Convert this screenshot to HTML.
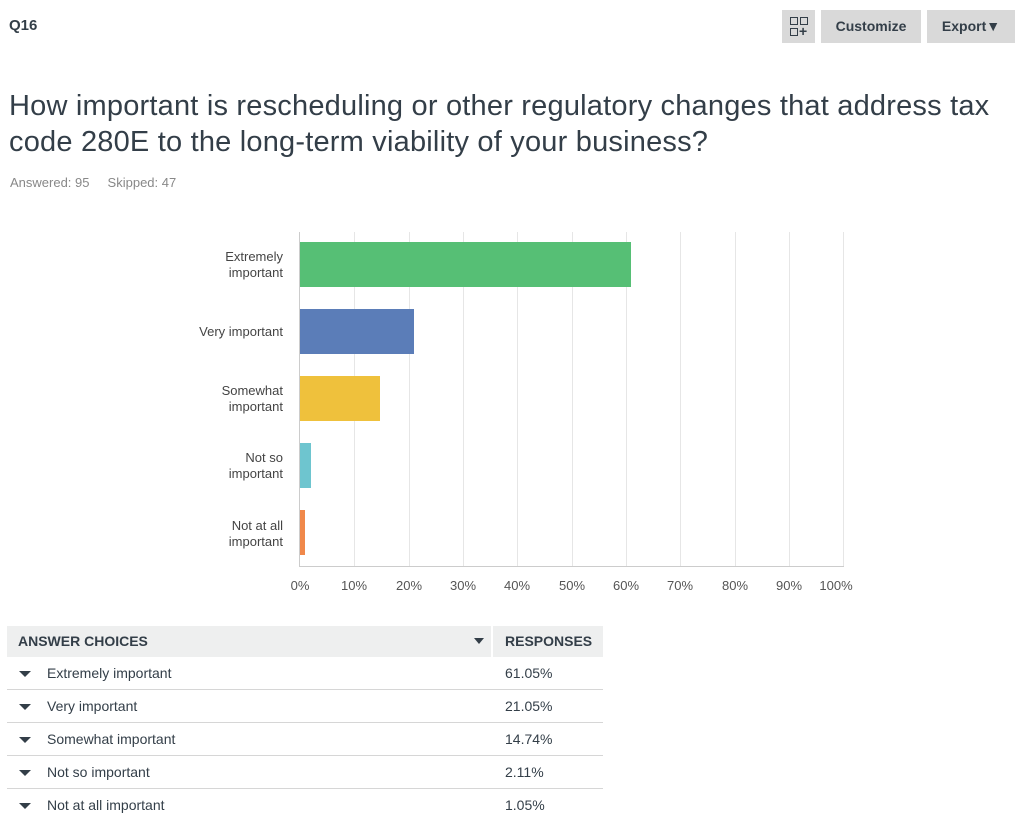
<!DOCTYPE html>
<html><head><meta charset="utf-8"><style>
body{margin:0;width:1024px;height:832px;background:#fff;font-family:"Liberation Sans",sans-serif;color:#333e48;position:relative;overflow:hidden}
.a{position:absolute}
.btn{position:absolute;top:10px;height:33px;background:#d9d9d9;font-weight:bold;font-size:14px;color:#333e48;line-height:33px;text-align:center}
.lab{position:absolute;right:741px;font-size:13px;color:#444;text-align:right;line-height:16px}
.grid{position:absolute;top:232px;height:335px;width:1px;background:#e6e6e6}
.tick{position:absolute;top:578px;font-size:13px;color:#555;width:40px;margin-left:-20px;text-align:center}
.row{position:absolute;left:7px;width:596px;height:32px;border-bottom:1px solid #d6d6d6;font-size:14px;line-height:32px}
.tri{position:absolute;left:12px;top:14px;width:0;height:0;border-left:6px solid transparent;border-right:6px solid transparent;border-top:6px solid #333e48}
.sq{position:absolute;width:6px;height:6px;border:1.5px solid #333e48}
</style></head><body>
<div class="a" style="left:9px;top:17px;font-size:15px;font-weight:bold">Q16</div>
<div class="btn" style="left:782px;width:33px">
<div class="sq" style="left:8px;top:7px"></div><div class="sq" style="left:18px;top:7px"></div><div class="sq" style="left:8px;top:18px"></div>
<div class="a" style="left:17px;top:14px;font-size:14px;line-height:14px">+</div></div>
<div class="btn" style="left:821px;width:100px">Customize</div>
<div class="btn" style="left:927px;width:88px">Export▼</div>
<div class="a" style="left:9px;top:88px;font-size:29px;line-height:36px;color:#333e48;width:1008px;letter-spacing:0.2px">How important is rescheduling or other regulatory changes that address tax code 280E to the long-term viability of your business?</div>
<div class="a" style="left:10px;top:175px;font-size:13px;color:#888">Answered: 95&nbsp;&nbsp;&nbsp;&nbsp;&nbsp;Skipped: 47</div>

<div class="grid" style="left:354px"></div><div class="grid" style="left:409px"></div><div class="grid" style="left:463px"></div><div class="grid" style="left:517px"></div><div class="grid" style="left:572px"></div><div class="grid" style="left:626px"></div><div class="grid" style="left:680px"></div><div class="grid" style="left:735px"></div><div class="grid" style="left:789px"></div><div class="grid" style="left:843px"></div>
<div class="a" style="left:299px;top:232px;width:1px;height:335px;background:#ccc"></div>
<div class="a" style="left:299px;top:566px;width:545px;height:1px;background:#ccc"></div>

<div class="a" style="left:300px;top:242px;width:331px;height:45px;background:#56bf75"></div>
<div class="a" style="left:300px;top:309px;width:114px;height:45px;background:#5b7db8"></div>
<div class="a" style="left:300px;top:376px;width:80px;height:45px;background:#efc13c"></div>
<div class="a" style="left:300px;top:443px;width:11px;height:45px;background:#6ec5cf"></div>
<div class="a" style="left:300px;top:510px;width:5px;height:45px;background:#f0884a"></div>

<div class="lab" style="top:249px">Extremely<br>important</div>
<div class="lab" style="top:324px">Very important</div>
<div class="lab" style="top:383px">Somewhat<br>important</div>
<div class="lab" style="top:450px">Not so<br>important</div>
<div class="lab" style="top:518px">Not at all<br>important</div>

<div class="tick" style="left:300px">0%</div><div class="tick" style="left:354px">10%</div><div class="tick" style="left:409px">20%</div><div class="tick" style="left:463px">30%</div><div class="tick" style="left:517px">40%</div><div class="tick" style="left:572px">50%</div><div class="tick" style="left:626px">60%</div><div class="tick" style="left:680px">70%</div><div class="tick" style="left:735px">80%</div><div class="tick" style="left:789px">90%</div><div class="tick" style="left:836px">100%</div>

<div class="a" style="left:7px;top:626px;width:484px;height:31px;background:#eeefef;font-size:14px;font-weight:bold;line-height:31px"><span style="margin-left:11px">ANSWER CHOICES</span><span style="position:absolute;left:467px;top:12px;border-left:5px solid transparent;border-right:5px solid transparent;border-top:6px solid #333e48"></span></div>
<div class="a" style="left:493px;top:626px;width:110px;height:31px;background:#eeefef;font-size:14px;font-weight:bold;line-height:31px"><span style="margin-left:12px">RESPONSES</span></div>

<div class="row" style="top:657px"><div class="tri"></div><span class="a" style="left:40px">Extremely important</span><span class="a" style="left:498px">61.05%</span></div>
<div class="row" style="top:690px"><div class="tri"></div><span class="a" style="left:40px">Very important</span><span class="a" style="left:498px">21.05%</span></div>
<div class="row" style="top:723px"><div class="tri"></div><span class="a" style="left:40px">Somewhat important</span><span class="a" style="left:498px">14.74%</span></div>
<div class="row" style="top:756px"><div class="tri"></div><span class="a" style="left:40px">Not so important</span><span class="a" style="left:498px">2.11%</span></div>
<div class="row" style="top:789px;border-bottom:none"><div class="tri"></div><span class="a" style="left:40px">Not at all important</span><span class="a" style="left:498px">1.05%</span></div>
</body></html>
